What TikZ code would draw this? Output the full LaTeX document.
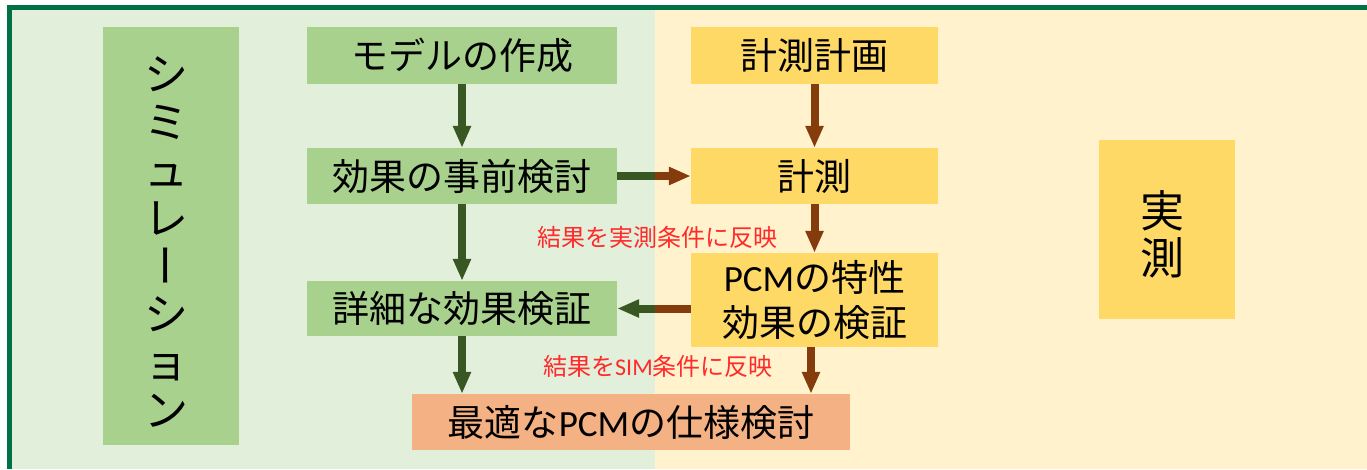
\documentclass[tikz,border=0pt]{standalone}
\usepackage{fontspec}
\setmainfont{Noto Sans CJK JP}
\newfontfamily\lat{Carlito}
\usetikzlibrary{arrows.meta}
\definecolor{frameg}{RGB}{0,112,70}
\definecolor{lgreen}{HTML}{E2EFDA}
\definecolor{lyellow}{HTML}{FFF2CC}
\definecolor{gbox}{HTML}{A9D18E}
\definecolor{ybox}{HTML}{FFD966}
\definecolor{obox}{HTML}{F4B183}
\definecolor{garrow}{HTML}{385723}
\definecolor{barrow}{HTML}{843C0C}
\definecolor{redtxt}{HTML}{FF2A2A}
\begin{document}
\begin{tikzpicture}[x=1pt,y=-1pt,
  txt/.style={inner sep=0pt, text height=32.6pt, text depth=4.4pt, font=\fontsize{37}{45}\selectfont},
  box/.style={txt},
  greenbox/.style={box, fill=gbox},
  yellowbox/.style={box, fill=ybox},
  orangebox/.style={box, fill=obox},
  bigch/.style={inner sep=0pt, text height=38.7pt, text depth=5.3pt, font=\fontsize{44}{48}\selectfont},
  redlabel/.style={inner sep=0pt, text height=21.1pt, text depth=2.9pt, text=redtxt, font=\fontsize{24}{28}\selectfont},
  arr/.style={line width=8pt, -{Triangle[width=17pt,length=22pt]}},
  ga/.style={arr, draw=garrow, fill=garrow},
  ba/.style={arr, draw=barrow, fill=barrow}]
\useasboundingbox (0,0) rectangle (1367,469);
\fill[white] (0,0) rectangle (1367,469);
\fill[frameg] (7,5) rectangle (1367,469);
\fill[lgreen] (12,10) rectangle (655,469);
\fill[lyellow] (655,10) rectangle (1367,469);

% simulation column
\node[fill=gbox, minimum width=136pt, minimum height=418pt, inner sep=0pt] (sim) at (171,236) {};
\foreach \c [count=\i from 0] in {シ,ミ,ュ,レ,,シ,ョ,ン}{
  \node[bigch] (s\i) at (166,{73.5+48*\i}) {\c};
}
\node[bigch, rotate=90] (s4) at (166,{73.5+48*4}) {ー};

% jissoku column
\node[fill=ybox, minimum width=136pt, minimum height=179pt, inner sep=0pt] (jis) at (1167,229.5) {};
\node[bigch] (j1) at (1162,211) {実};
\node[bigch] (j2) at (1162,258) {測};

% boxes
\node[greenbox, minimum width=310pt, minimum height=57pt] (model) at (462,55.5) {モデルの作成};
\node[greenbox, minimum width=310pt, minimum height=56pt] (pre) at (462,176) {効果の事前検討};
\node[greenbox, minimum width=310pt, minimum height=55pt] (det) at (462,308.5) {詳細な効果検証};
\node[yellowbox, minimum width=247pt, minimum height=57pt] (plan) at (814.5,55.5) {計測計画};
\node[yellowbox, minimum width=247pt, minimum height=56pt] (meas) at (814.5,176) {計測};
\node[fill=ybox, inner sep=0pt, minimum width=247pt, minimum height=94pt] (pcm) at (814.5,300) {};
\node[txt] (pcm1) at (814.5,277) {{\lat PCM}の特性};
\node[txt] (pcm2) at (814.5,322) {効果の検証};
\node[orangebox, minimum width=438pt, minimum height=56pt] (opt) at (631,422) {最適な{\lat PCM}の仕様検討};

% labels
\node[redlabel] (l1) at (657.5,237) {結果を実測条件に反映};
\node[redlabel] (l2) at (658,366.5) {結果を{\lat SIM}条件に反映};

% vertical arrows
\draw[ga] (model.south) -- (pre.north);
\draw[ga] (pre.south) -- (det.north);
\draw[ga] (det.south) -- (det.south |- opt.north);
\draw[ba] (plan.south) -- (meas.north);
\draw[ba] (meas.south) -- (pcm.north);
\coordinate (px) at (811,0);
\draw[ba] (pcm.south -| px) -- (opt.north -| px);

% horizontal arrows, coloured by panel
\begin{scope}
  \clip (12,10) rectangle (655,469);
  \draw[ga] (pre.east) -- (meas.west);
  \draw[ga] (pcm.west |- det.east) -- (det.east);
\end{scope}
\begin{scope}
  \clip (655,10) rectangle (1367,469);
  \draw[ba] (pre.east) -- (meas.west);
  \draw[ba] (pcm.west |- det.east) -- (det.east);
\end{scope}
\end{tikzpicture}
\end{document}
